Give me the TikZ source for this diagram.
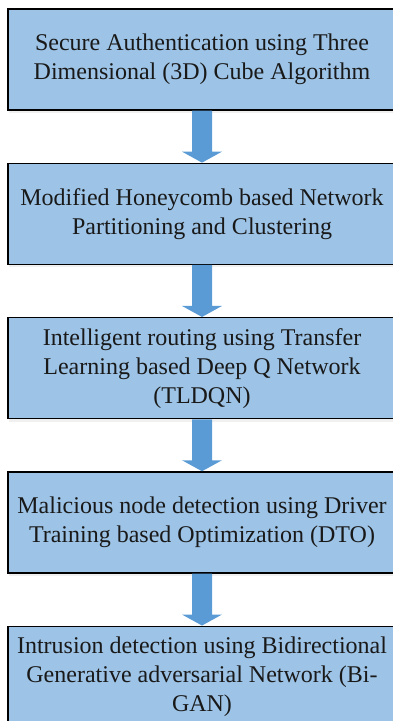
\documentclass[tikz,border=0pt]{standalone}
\usepackage{fontspec}
\setmainfont{Liberation Serif}
\usepackage{tikz}
\usetikzlibrary{calc,positioning,shadows}
\definecolor{boxblue}{HTML}{9DC3E6}
\definecolor{arrowblue}{HTML}{5B9BD5}
\tikzset{
	stagebox/.style={draw=black, line width=1.3pt, fill=boxblue, minimum width=388pt, minimum height=101pt, inner sep=0pt, align=center, text=black!90, font=\fontsize{24}{29}\selectfont, drop shadow={opacity=0.12, shadow xshift=1pt, shadow yshift=-3pt}}
}
\def\flowarrow(#1)(#2){\fill[arrowblue] ($(#1.south)+(-10,0)$) -- ($(#2.north)+(-10,11)$) -- ($(#2.north)+(-20,11)$) -- (#2.north) -- ($(#2.north)+(20,11)$) -- ($(#2.north)+(10,11)$) -- ($(#1.south)+(10,0)$) -- cycle;}

\begin{document}
\begin{tikzpicture}[x=1pt, y=1pt, node distance=52pt]
		%%%%% START %%%%%
		\useasboundingbox (0, 0) rectangle (393, -721);
		\clip (0, 0) rectangle (393, -721);
		
		\node[stagebox] (auth) at (202, -59.5) {Secure Authentication using Three\\Dimensional (3D) Cube Algorithm};
		\node[stagebox, below=of auth] (honey) {Modified Honeycomb based Network\\Partitioning and Clustering};
		\node[stagebox, below=of honey] (route) {Intelligent routing using Transfer\\Learning based Deep Q Network\\(TLDQN)};
		\node[stagebox, below=of route] (dto) {Malicious node detection using Driver\\Training based Optimization (DTO)};
		\node[stagebox, below=of dto] (bigan) {Intrusion detection using Bidirectional\\Generative adversarial Network (Bi-\\GAN)};
		
		\flowarrow(auth)(honey)
		\flowarrow(honey)(route)
		\flowarrow(route)(dto)
		\flowarrow(dto)(bigan)
		
		%%%%% END %%%%%
	\end{tikzpicture}
\end{document}
